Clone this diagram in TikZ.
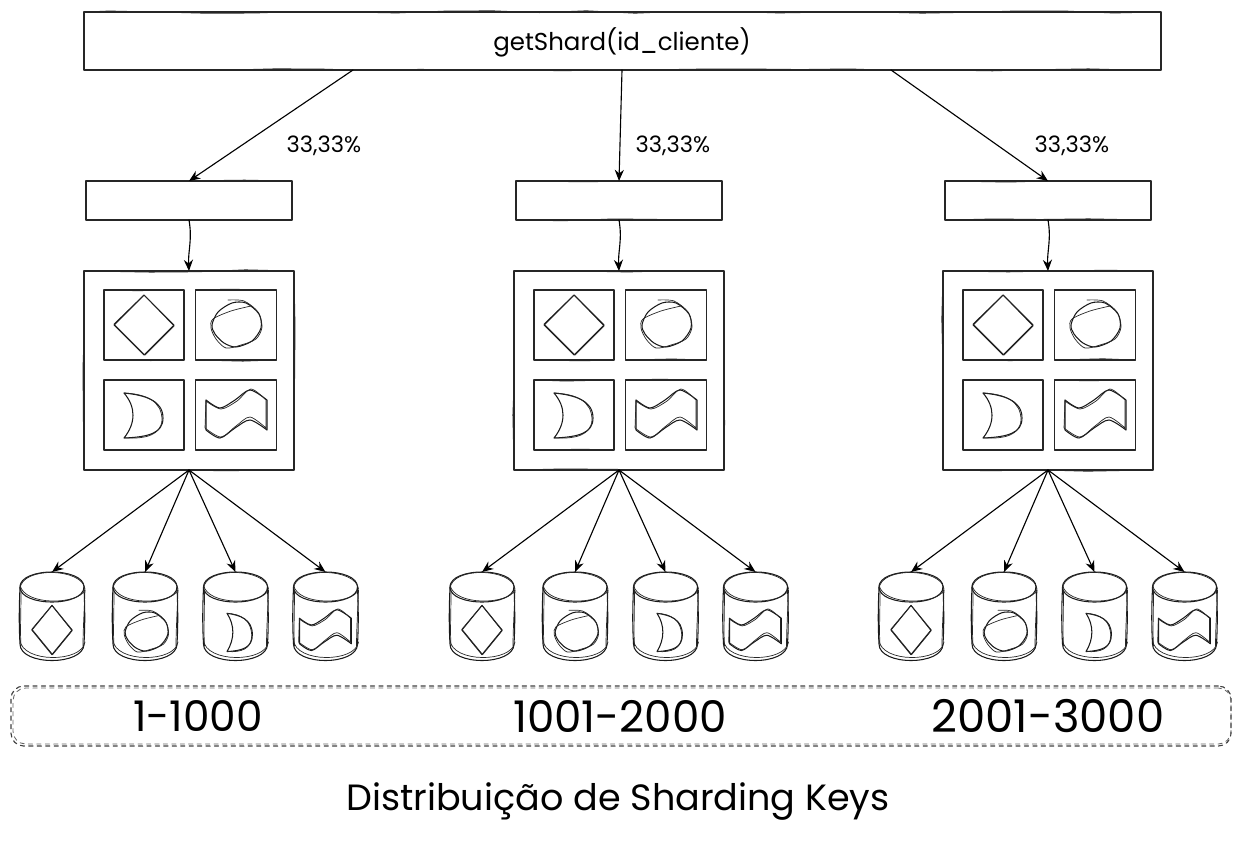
\documentclass[tikz,border=0pt]{standalone}
\usepackage{fontspec}
\setmainfont{Poppins}
\usetikzlibrary{arrows.meta,decorations.pathmorphing}
\def\u{0.025cm}
\tikzset{
    sketch/.style={
        line width=0.8pt, draw=black!85,
        postaction={draw, line width=0.5pt, decorate,
            decoration={random steps, segment length=34pt, amplitude=0.9pt}}
    },
    gemline/.style={line width=0.75pt, draw=black!90},
    traceline/.style={line width=0.5pt, draw=black!85},
    boxnode/.style={sketch, rectangle, inner sep=0pt, outer sep=0pt},
    dbnode/.style={rectangle, inner sep=0pt, outer sep=0pt, minimum width=65*\u, minimum height=88*\u},
    link/.style={->, line width=0.8pt, draw=black},
    pics/gemdiamond/.style={code={
        \draw[gemline] (-30,0) -- (0,-30) -- (30,0) -- (0,30) -- cycle;
        \draw[traceline] (-30,-1) -- (0,-30) -- (30,1) -- (1,30) -- cycle;
    }},
    pics/gemcircle/.style={code={
        \draw[gemline] plot[smooth cycle] coordinates {(-24,0) (-18,-13) (-4,-22) (10,-22) (23,-11) (25,3) (16,16) (0,22) (-12,18) (-21,9)};
        \draw[traceline] plot[smooth] coordinates {(-8,-25) (8,-24) (22,-13) (26,2) (20,14) (5,20) (-10,23) (-20,14) (-25,3) (-23,-6) (-5,-14) (15,-19)};
    }},
    pics/gemmoon/.style={code={
        \draw[gemline] (-20,-22) .. controls (0,-20) and (19,-15) .. (19,3)
            .. controls (19,18) and (5,22) .. (-20,23)
            .. controls (-8,8) and (-8,-8) .. cycle;
        \draw[traceline] (-20,-22) .. controls (2,-21) and (18,-14) .. (18,5)
            .. controls (17,20) and (2,24) .. (-19,23);
    }},
    pics/gemflag/.style={code={
        \draw[gemline] plot[smooth] coordinates {(-30,-15) (-16,-7) (-1,-15) (14,-25) (31,-15)}
            -- (31,15) plot[smooth] coordinates {(31,15) (14,5) (-1,13) (-16,23) (-30,15)} -- (-30,-15);
        \draw[traceline] plot[smooth] coordinates {(-30,-14) (-15,-6) (1,-14) (15,-26) (30,-15)}
            -- (30,13) plot[smooth] coordinates {(30,13) (14,2) (0,11) (-15,22) (-31,13)} -- (-30,-14);
    }},
    pics/dbbody/.style={code={
        % main strokes
        \draw[gemline] (-32,-29) .. controls (-32,-49) and (32,-49) .. (32,-29)
            .. controls (32,-9) and (-32,-9) .. (-32,-29);
        \draw[gemline] (-32,-29) .. controls (-33,-5) and (-33,10) .. (-32,28)
            .. controls (-32,50) and (32,50) .. (32,28)
            .. controls (33,10) and (33,-5) .. (32,-29);
        % second pass
        \draw[traceline] (-32,-27) .. controls (-31,-50) and (31,-48) .. (33,-27);
        \draw[traceline] (-32,-31) .. controls (-28,-10) and (26,-11) .. (33,-26);
        \draw[traceline] (-31,-26) .. controls (-31,0) and (-32,15) .. (-31,30);
        \draw[traceline] (33,-26) .. controls (32,0) and (31,15) .. (31,30);
        \draw[traceline] (-32,24) .. controls (-30,47) and (30,47) .. (33,26);
    }}
}

\begin{document}
\begin{tikzpicture}[x=\u, y=-\u, >={Stealth[length=8pt,width=6.5pt]}, line cap=round, line join=round]
    \pgfmathsetseed{7}
    \useasboundingbox (0,0) rectangle (1241,841);

    % Top box
    \node[boxnode, minimum width=1077*\u, minimum height=58*\u] (router) at (622.5,41) {};
    \node[font=\fontsize{17.4}{22}\selectfont] (routerlabel) at (622,42) {getShard(id\_cliente)};
    \coordinate (routerL) at (353,70);
    \coordinate (routerM) at (622,70);
    \coordinate (routerR) at (891,70);

    % One column per shard
    \foreach \gx/\gname in {0/a,430/b,859/c} {
        \begin{scope}[xshift=\gx*\u]
            \node[boxnode, minimum width=206*\u, minimum height=39*\u] (lb\gname) at (189,200.5) {};
            \node[boxnode, minimum width=210*\u, minimum height=199*\u] (srv\gname) at (189,370.5) {};
            \draw[link] (lb\gname.south) to[out=-80,in=93] (srv\gname.north);

            % Four tiles
            \node[boxnode, minimum width=80*\u, minimum height=70*\u] (tile\gname1) at (144,325) {};
            \node[boxnode, minimum width=81*\u, minimum height=70*\u] (tile\gname2) at (236,325) {};
            \node[boxnode, minimum width=80*\u, minimum height=70*\u] (tile\gname3) at (144,415) {};
            \node[boxnode, minimum width=81*\u, minimum height=70*\u] (tile\gname4) at (236,415) {};
            \pic at (144,325) {gemdiamond};
            \pic at (236,325) {gemcircle};
            \pic at (144,415) {gemmoon};
            \pic at (236,415) {gemflag};

            % Databases
            \node[dbnode] (db\gname1) at (52,616) {};
            \node[dbnode] (db\gname2) at (145,616) {};
            \node[dbnode] (db\gname3) at (235.5,616) {};
            \node[dbnode] (db\gname4) at (325.5,616) {};
            \pic at (52,616) {dbbody};
            \pic at (145,616) {dbbody};
            \pic at (235.5,616) {dbbody};
            \pic at (325.5,616) {dbbody};
            \pic[xscale=0.67, yscale=0.82] at (52,630) {gemdiamond};
            \pic[scale=0.87] at (146,632) {gemcircle};
            \pic[xscale=0.65, yscale=0.85] at (240,632) {gemmoon};
            \pic[scale=0.85] at (325,631) {gemflag};
            \foreach \n in {1,2,3,4} {
                \draw[link] (srv\gname.south) -- (db\gname\n.north);
            }
        \end{scope}
    }

    % Router links
    \draw[link] (routerL) -- (lba.north);
    \draw[link] (routerM) -- (lbb.north);
    \draw[link] (routerR) -- (lbc.north);
    \node[font=\fontsize{16}{18}\selectfont] (pcta) at (324,146) {33,33\%};
    \node[font=\fontsize{16}{18}\selectfont] (pctb) at (673,146) {33,33\%};
    \node[font=\fontsize{16}{18}\selectfont] (pctc) at (1072,146) {33,33\%};

    % Key ranges
    \node[draw=black!75, dashed, line width=0.8pt, rounded corners=9pt, inner sep=0pt,
        minimum width=1220*\u, minimum height=60*\u] (ranges) at (621,716) {};
    \node[draw=black!60, dashed, line width=0.6pt, rounded corners=9pt, inner sep=0pt,
        minimum width=1218*\u, minimum height=56*\u] (rangesb) at (622,716) {};
    \node[font=\fontsize{30}{36}\selectfont] (rangea) at (198,716) {1-1000};
    \node[font=\fontsize{31}{36}\selectfont] (rangeb) at (620,716) {1001-2000};
    \node[font=\fontsize{32}{36}\selectfont] (rangec) at (1048,716) {2001-3000};

    % Title
    \node[font=\fontsize{26}{32}\selectfont] (title) at (618,802) {Distribuição de Sharding Keys};
\end{tikzpicture}
\end{document}
